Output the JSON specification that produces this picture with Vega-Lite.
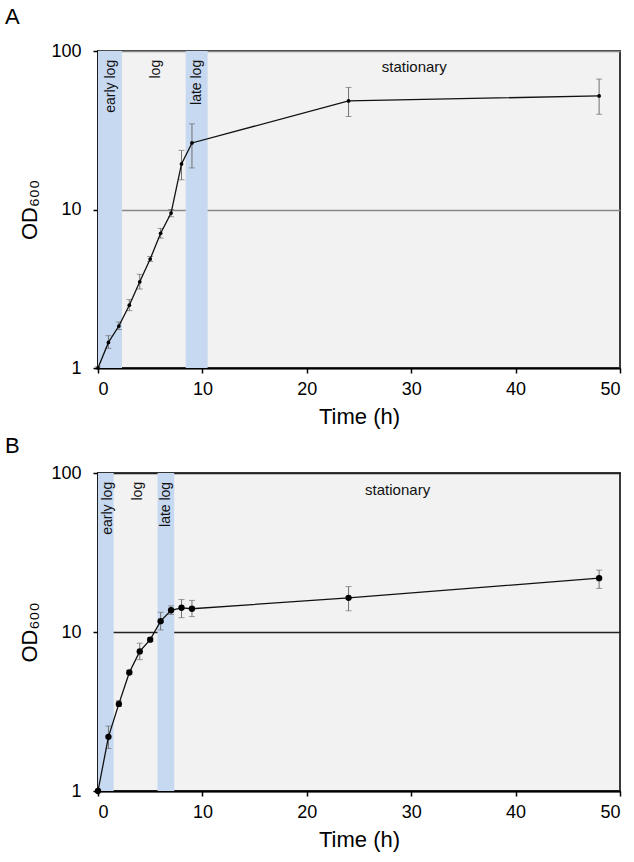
{
  "$schema": "https://vega.github.io/schema/vega-lite/v6.json",
  "padding": {"left": 3, "top": 5, "right": 5, "bottom": 5},
  "spacing": 6,
  "datasets": {
    "growthA": [
      {"t": 0, "od": 1.0, "lo": 0.98, "hi": 1.02},
      {"t": 1, "od": 1.45, "lo": 1.33, "hi": 1.6},
      {"t": 2, "od": 1.84, "lo": 1.75, "hi": 1.95},
      {"t": 3, "od": 2.49, "lo": 2.3, "hi": 2.7},
      {"t": 4, "od": 3.5, "lo": 3.15, "hi": 3.9},
      {"t": 5, "od": 4.87, "lo": 4.7, "hi": 5.05},
      {"t": 6, "od": 7.08, "lo": 6.6, "hi": 7.6},
      {"t": 7, "od": 9.5, "lo": 9.0, "hi": 10.0},
      {"t": 8, "od": 19.4, "lo": 15.4, "hi": 23.6},
      {"t": 9, "od": 26.3, "lo": 18.3, "hi": 34.7},
      {"t": 24, "od": 48.4, "lo": 38.6, "hi": 58.9},
      {"t": 48, "od": 52.1, "lo": 39.9, "hi": 66.5}
    ],
    "growthB": [
      {"t": 0, "od": 1.0, "lo": 0.98, "hi": 1.02},
      {"t": 1, "od": 2.19, "lo": 1.85, "hi": 2.56},
      {"t": 2, "od": 3.53, "lo": 3.4, "hi": 3.7},
      {"t": 3, "od": 5.56, "lo": 5.4, "hi": 5.75},
      {"t": 4, "od": 7.55, "lo": 6.7, "hi": 8.5},
      {"t": 5, "od": 8.95, "lo": 8.7, "hi": 9.2},
      {"t": 6, "od": 11.7, "lo": 10.3, "hi": 13.3},
      {"t": 7, "od": 13.7, "lo": 12.9, "hi": 14.6},
      {"t": 8, "od": 14.2, "lo": 12.3, "hi": 16.0},
      {"t": 9, "od": 14.0, "lo": 12.5, "hi": 15.8},
      {"t": 24, "od": 16.4, "lo": 13.6, "hi": 19.3},
      {"t": 48, "od": 21.8, "lo": 18.8, "hi": 24.5}
    ],
    "bandsA": [
      {"start": 0, "end": 2.3},
      {"start": 8.4, "end": 10.5}
    ],
    "bandsB": [
      {"start": 0, "end": 1.5},
      {"start": 5.7, "end": 7.3}
    ],
    "phasesA": [
      {"x": 1.2, "y": 88, "label": "early log"},
      {"x": 5.6, "y": 88, "label": "log"},
      {"x": 9.5, "y": 88, "label": "late log"}
    ],
    "phasesB": [
      {"x": 1.0, "y": 88, "label": "early log"},
      {"x": 3.8, "y": 88, "label": "log"},
      {"x": 6.5, "y": 88, "label": "late log"}
    ],
    "statA": [{"x": 30.3, "y": 79, "label": "stationary"}],
    "statB": [{"x": 28.7, "y": 78, "label": "stationary"}]
  },
  "vconcat": [
    {
      "width": 522,
      "height": 317,
      "title": {"text": "A", "offset": 13, "dx": -14},
      "layer": [
        {
          "data": {"name": "bandsA"},
          "mark": {"type": "rect", "color": "#c6d9f1"},
          "encoding": {
            "x": {"field": "start", "type": "quantitative", "scale": {"domain": [0, 50], "nice": false}},
            "x2": {"field": "end"}
          }
        },
        {
          "data": {"name": "growthA"},
          "mark": {"type": "errorbar", "ticks": {"size": 6}, "color": "#707070", "thickness": 1},
          "encoding": {
            "x": {"field": "t", "type": "quantitative", "title": "Time (h)"},
            "y": {"field": "lo", "type": "quantitative", "title": "OD₆₀₀", "scale": {"type": "log", "domain": [1, 100]}},
            "y2": {"field": "hi"}
          }
        },
        {
          "data": {"name": "growthA"},
          "mark": {"type": "line", "color": "#111", "strokeWidth": 1.3, "point": {"filled": true, "color": "#000", "size": 14}},
          "encoding": {
            "x": {"field": "t", "type": "quantitative", "title": "Time (h)", "axis": {"values": [0, 10, 20, 30, 40, 50]}},
            "y": {"field": "od", "type": "quantitative", "title": "OD₆₀₀", "axis": {"values": [1, 10, 100], "grid": true, "gridColor": "#888", "gridWidth": 1.5}}
          }
        },
        {
          "data": {"name": "phasesA"},
          "mark": {"type": "text", "angle": 270, "align": "right", "baseline": "middle", "fontSize": 14, "color": "#111"},
          "encoding": {
            "x": {"field": "x", "type": "quantitative"},
            "y": {"field": "y", "type": "quantitative"},
            "text": {"field": "label"}
          }
        },
        {
          "data": {"name": "statA"},
          "mark": {"type": "text", "align": "center", "baseline": "middle", "fontSize": 15, "color": "#111"},
          "encoding": {
            "x": {"field": "x", "type": "quantitative"},
            "y": {"field": "y", "type": "quantitative"},
            "text": {"field": "label"}
          }
        }
      ]
    },
    {
      "width": 522,
      "height": 318,
      "title": {"text": "B", "offset": 6, "dx": -14},
      "layer": [
        {
          "data": {"name": "bandsB"},
          "mark": {"type": "rect", "color": "#c6d9f1"},
          "encoding": {
            "x": {"field": "start", "type": "quantitative", "scale": {"domain": [0, 50], "nice": false}},
            "x2": {"field": "end"}
          }
        },
        {
          "data": {"name": "growthB"},
          "mark": {"type": "errorbar", "ticks": {"size": 6}, "color": "#707070", "thickness": 1},
          "encoding": {
            "x": {"field": "t", "type": "quantitative", "title": "Time (h)"},
            "y": {"field": "lo", "type": "quantitative", "title": "OD₆₀₀", "scale": {"type": "log", "domain": [1, 100]}},
            "y2": {"field": "hi"}
          }
        },
        {
          "data": {"name": "growthB"},
          "mark": {"type": "line", "color": "#111", "strokeWidth": 1.3, "point": {"filled": true, "color": "#000", "size": 40}},
          "encoding": {
            "x": {"field": "t", "type": "quantitative", "title": "Time (h)", "axis": {"values": [0, 10, 20, 30, 40, 50]}},
            "y": {"field": "od", "type": "quantitative", "title": "OD₆₀₀", "axis": {"values": [1, 10, 100], "grid": true, "gridColor": "#222", "gridWidth": 1.5}}
          }
        },
        {
          "data": {"name": "phasesB"},
          "mark": {"type": "text", "angle": 270, "align": "right", "baseline": "middle", "fontSize": 14, "color": "#111"},
          "encoding": {
            "x": {"field": "x", "type": "quantitative"},
            "y": {"field": "y", "type": "quantitative"},
            "text": {"field": "label"}
          }
        },
        {
          "data": {"name": "statB"},
          "mark": {"type": "text", "align": "center", "baseline": "middle", "fontSize": 15, "color": "#111"},
          "encoding": {
            "x": {"field": "x", "type": "quantitative"},
            "y": {"field": "y", "type": "quantitative"},
            "text": {"field": "label"}
          }
        }
      ]
    }
  ],
  "config": {
    "font": "Liberation Sans",
    "view": {"fill": "#f2f2f2", "stroke": "#3a3a3a", "strokeWidth": 2},
    "axis": {
      "domainColor": "#000",
      "domainWidth": 2,
      "tickColor": "#000",
      "tickWidth": 1.5,
      "tickSize": 5,
      "labelFontSize": 18,
      "labelColor": "#000",
      "titleFontSize": 22,
      "titleFontWeight": "normal",
      "titleColor": "#000",
      "grid": false
    },
    "axisX": {"labelPadding": 7, "titlePadding": 8},
    "axisY": {"labelPadding": 12, "titlePadding": 9, "labelFlush": false},
    "title": {"fontSize": 22, "fontWeight": "normal", "anchor": "start", "frame": "bounds", "color": "#000"}
  }
}
